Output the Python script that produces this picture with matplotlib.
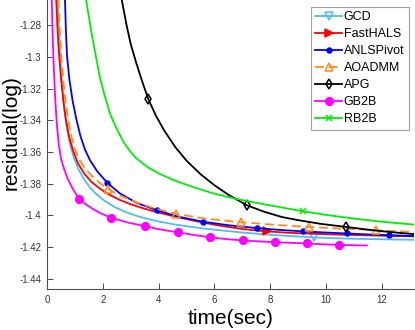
import numpy as np
import matplotlib
matplotlib.use("Agg")
import matplotlib.pyplot as plt

plt.rcParams['font.family'] = ['Liberation Sans', 'DejaVu Sans']

# ---- data ----
gcd_x = [0.38, 0.42, 0.47, 0.53, 0.60, 0.70, 0.82, 0.96, 1.12, 1.30, 1.50, 1.72, 2.00, 2.40, 2.80, 3.30, 3.90, 4.60, 5.40, 6.20, 7.00, 8.00, 9.00, 9.55, 10.50, 11.50, 12.50, 13.15]
gcd_y = [-1.264, -1.280, -1.298, -1.315, -1.330, -1.344, -1.355, -1.3635, -1.3705, -1.3765, -1.3815, -1.3858, -1.3900, -1.3945, -1.3978, -1.4008, -1.4035, -1.4058, -1.4078, -1.4094, -1.4108, -1.4122, -1.4133, -1.4139, -1.4145, -1.4149, -1.4152, -1.4154]
gcd_mk = [9.55]

hals_x = [0.33, 0.37, 0.42, 0.50, 0.58, 0.68, 0.80, 0.95, 1.12, 1.35, 1.60, 1.90, 2.20, 2.60, 3.00, 3.50, 4.00, 4.60, 5.30, 6.10, 7.00, 7.87, 8.70, 9.60, 10.60, 11.60, 12.50, 13.15]
hals_y = [-1.264, -1.280, -1.296, -1.313, -1.327, -1.340, -1.351, -1.360, -1.3675, -1.3740, -1.3790, -1.3832, -1.3866, -1.3902, -1.3930, -1.3958, -1.3982, -1.4008, -1.4035, -1.4062, -1.4086, -1.4101, -1.4110, -1.4116, -1.4122, -1.4126, -1.4130, -1.4132]
hals_mk = [7.87]

anls_x = [0.645, 0.68, 0.72, 0.80, 0.92, 1.06, 1.20, 1.36, 1.55, 1.80, 2.15, 2.60, 3.20, 3.93, 4.70, 5.60, 6.50, 7.52, 8.30, 9.19, 10.00, 10.74, 11.50, 12.27, 13.15]
anls_y = [-1.264, -1.285, -1.300, -1.314, -1.328, -1.340, -1.350, -1.3585, -1.3655, -1.3722, -1.3793, -1.3860, -1.3920, -1.3967, -1.4008, -1.4040, -1.4062, -1.4080, -1.4091, -1.4101, -1.4108, -1.4114, -1.4120, -1.4125, -1.4130]
anls_mk = [2.15, 3.93, 5.60, 7.52, 9.19, 10.74, 12.27]

admm_x = [0.41, 0.45, 0.50, 0.57, 0.65, 0.75, 0.87, 1.00, 1.15, 1.35, 1.60, 1.90, 2.20, 2.62, 3.20, 3.80, 4.62, 5.40, 6.20, 6.95, 8.20, 9.39, 10.60, 11.78, 13.15]
admm_y = [-1.264, -1.280, -1.296, -1.312, -1.326, -1.339, -1.350, -1.3585, -1.3645, -1.3700, -1.3750, -1.3797, -1.3835, -1.3875, -1.3918, -1.3952, -1.3990, -1.4013, -1.4030, -1.4043, -1.4060, -1.4073, -1.4084, -1.4093, -1.4105]
admm_mk = [2.20, 4.62, 6.95, 9.39, 11.78]

apg_x = [2.68, 2.85, 3.00, 3.20, 3.40, 3.63, 3.90, 4.20, 4.60, 5.00, 5.50, 6.00, 6.50, 7.16, 7.75, 8.41, 9.00, 9.80, 10.72, 11.50, 12.30, 13.15]
apg_y = [-1.2642, -1.2800, -1.2920, -1.3040, -1.3150, -1.3267, -1.3370, -1.3465, -1.3570, -1.3655, -1.3740, -1.3810, -1.3870, -1.3936, -1.3975, -1.4010, -1.4030, -1.4053, -1.4073, -1.4090, -1.4105, -1.4118]
apg_mk = [3.63, 7.16, 10.72]

gb2b_x = [0.17, 0.20, 0.24, 0.29, 0.35, 0.42, 0.50, 0.60, 0.72, 0.85, 1.00, 1.16, 1.35, 1.60, 1.90, 2.31, 2.90, 3.51, 4.10, 4.68, 5.25, 5.84, 6.45, 7.04, 7.60, 8.18, 8.75, 9.33, 9.90, 10.48, 11.46]
gb2b_y = [-1.264, -1.285, -1.305, -1.325, -1.342, -1.355, -1.364, -1.370, -1.376, -1.3808, -1.3855, -1.3896, -1.3925, -1.3955, -1.3985, -1.4016, -1.4045, -1.4068, -1.4090, -1.4106, -1.4123, -1.4138, -1.4150, -1.4158, -1.4164, -1.4169, -1.4173, -1.4177, -1.4182, -1.4186, -1.4190]
gb2b_mk = [1.16, 2.31, 3.51, 4.68, 5.84, 7.04, 8.18, 9.33, 10.48]

rb2b_x = [1.40, 1.60, 1.90, 2.10, 2.26, 2.50, 2.75, 2.97, 3.20, 3.60, 4.00, 4.50, 5.00, 5.50, 6.00, 6.70, 7.50, 8.35, 9.16, 10.00, 11.00, 12.00, 13.15]
rb2b_y = [-1.264, -1.2855, -1.3135, -1.3265, -1.3360, -1.3455, -1.3540, -1.3594, -1.3640, -1.3695, -1.3735, -1.3775, -1.3807, -1.3836, -1.3863, -1.3893, -1.3921, -1.3948, -1.3974, -1.3997, -1.4020, -1.4040, -1.4058]
rb2b_mk = [9.16]

x_ticks = [0, 2, 4, 6, 8, 10, 12]
y_ticks = [-1.44, -1.42, -1.40, -1.38, -1.36, -1.34, -1.32, -1.30, -1.28]
y_ticklabels = ['-1.44', '-1.42', '-1.4', '-1.38', '-1.36', '-1.34', '-1.32', '-1.3', '-1.28']

series = [
    ('GCD', gcd_x, gcd_y, gcd_mk, dict(color='#4DBEEE', marker='v', mfc='none', ms=6, ls='-')),
    ('FastHALS', hals_x, hals_y, hals_mk, dict(color='#FF0000', marker='>', mfc='#FF0000', ms=6, ls='-')),
    ('ANLSPivot', anls_x, anls_y, anls_mk, dict(color='#0000FF', marker='o', mfc='#0000FF', ms=3.5, ls='-')),
    ('AOADMM', admm_x, admm_y, admm_mk, dict(color='#FF8C1A', marker='^', mfc='none', ms=6, ls=(0, (5, 2.5)))),
    ('APG', apg_x, apg_y, apg_mk, dict(color='#000000', marker='d', mfc='none', ms=5, ls='-')),
    ('GB2B', gb2b_x, gb2b_y, gb2b_mk, dict(color='#FF00FF', marker='o', mfc='#FF00FF', ms=5.5, ls='-')),
    ('RB2B', rb2b_x, rb2b_y, rb2b_mk, dict(color='#00EE00', marker='x', mfc='none', ms=4, ls='-')),
]

fig = plt.figure(figsize=(4.15, 3.3), dpi=100)
ax = fig.add_axes([47/415, 41/330, 367/415, 289/330])

for name, xs, ys, mk, st in series:
    xs = np.asarray(xs); ys = np.asarray(ys)
    idx = [int(np.argmin(np.abs(xs - m))) for m in mk]
    ax.plot(xs, ys, label=name, lw=1.3, markevery=idx, mew=1.1, **st)

ax.set_xlim(0, 13.15)
ax.set_ylim(-1.4464, -1.2642)
ax.set_xticks(x_ticks)
ax.set_yticks(y_ticks)
ax.set_yticklabels(y_ticklabels)
ax.spines['top'].set_visible(False)
ax.spines['right'].set_visible(False)
for s in ('left', 'bottom'):
    ax.spines[s].set_color('#4d4d4d')
    ax.spines[s].set_linewidth(0.8)
ax.tick_params(direction='in', length=4, width=0.7, colors='#4d4d4d', labelsize=7, labelcolor='#333333', pad=4)

ax.set_xlabel('time(sec)', fontsize=15)
ax.xaxis.set_label_coords(0.5, -0.068)
ax.set_ylabel('residual(log)', fontsize=15)
ax.yaxis.set_label_coords(-0.072, 0.54)

leg = ax.legend(loc='upper left', bbox_to_anchor=(311/415, 1 - 7/330), bbox_transform=fig.transFigure,
                fontsize=9, frameon=True, fancybox=False, borderpad=0.35, labelspacing=0.4,
                handlelength=2.1, handletextpad=0.15, borderaxespad=0)
leg.get_frame().set_edgecolor('#888888')
leg.get_frame().set_linewidth(0.8)

fig.savefig('out.png', dpi=100)
